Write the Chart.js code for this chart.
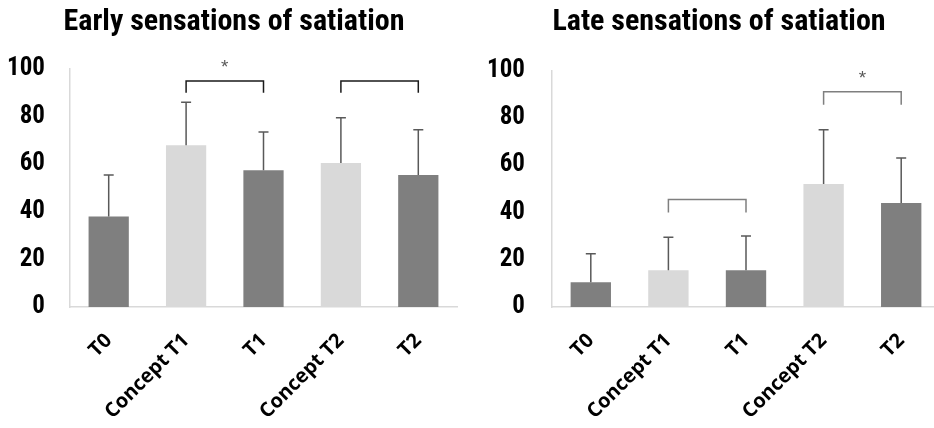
<!DOCTYPE html>
<html>
<head>
    <title>Sensations of satiation</title>
    <script src="https://cdn.jsdelivr.net/npm/chart.js"></script>
    <style>
        body, html {
            margin: 0;
            padding: 0;
            width: 934px;
            height: 428px;
            overflow: hidden;
            background: #fff;
        }
        .box {
            position: absolute;
            top: 0;
            height: 428px;
        }
        #leftBox { left: 0; width: 470px; }
        #rightBox { left: 480px; width: 480px; }
    </style>
</head>
<body>

<div class="box" id="leftBox"><canvas id="earlyChart"></canvas></div>
<div class="box" id="rightBox"><canvas id="lateChart"></canvas></div>

<script>
    // data
    const labels = ['T0', 'Concept T1', 'T1', 'Concept T2', 'T2'];
    const yTicks = [0, 20, 40, 60, 80, 100];

    const earlyMean = [38, 68, 57.5, 60.5, 55.5];
    const earlySd = [17.5, 18, 16, 19, 19];
    const earlyBrackets = [
        { from: 1, to: 2, top: 95, low: 90, mark: '*' },
        { from: 3, to: 4, top: 95, low: 90, mark: '' }
    ];

    const lateMean = [10.5, 15.5, 15.5, 52, 44];
    const lateSd = [12, 14, 14.5, 23, 19];
    const lateBrackets = [
        { from: 1, to: 2, top: 45.5, low: 40, mark: '' },
        { from: 3, to: 4, top: 91, low: 85.5, mark: '*' }
    ];

    const DARK = '#7f7f7f';
    const LIGHT = '#d9d9d9';
    const NARROW = "'Liberation Sans Narrow', 'Roboto Condensed', Roboto, sans-serif";
    const barColors = labels.map(l => l.startsWith('Concept') ? LIGHT : DARK);

    const errorBars = {
        id: 'errorBars',
        afterDatasetsDraw(chart, args, opts) {
            const ctx = chart.ctx;
            const y = chart.scales.y;
            const meta = chart.getDatasetMeta(0);
            const means = chart.data.datasets[0].data;
            ctx.save();
            ctx.strokeStyle = '#595959';
            ctx.lineWidth = 1.5;
            meta.data.forEach((bar, i) => {
                const yTop = y.getPixelForValue(means[i] + opts.sd[i]);
                const yBase = y.getPixelForValue(means[i]);
                ctx.beginPath();
                ctx.moveTo(bar.x, yBase);
                ctx.lineTo(bar.x, yTop);
                ctx.moveTo(bar.x - 5, yTop);
                ctx.lineTo(bar.x + 5, yTop);
                ctx.stroke();
            });
            ctx.restore();
        }
    };

    const brackets = {
        id: 'brackets',
        afterDraw(chart, args, opts) {
            const ctx = chart.ctx;
            const y = chart.scales.y;
            const meta = chart.getDatasetMeta(0);
            ctx.save();
            ctx.strokeStyle = opts.color;
            ctx.lineWidth = 1.5;
            opts.list.forEach(b => {
                const x1 = meta.data[b.from].x;
                const x2 = meta.data[b.to].x;
                const yt = y.getPixelForValue(b.top);
                const yl = y.getPixelForValue(b.low);
                ctx.beginPath();
                ctx.moveTo(x1, yl);
                ctx.lineTo(x1, yt);
                ctx.lineTo(x2, yt);
                ctx.lineTo(x2, yl);
                ctx.stroke();
                if (b.mark) {
                    ctx.fillStyle = '#595959';
                    ctx.font = '19px "Liberation Sans", sans-serif';
                    ctx.textAlign = 'center';
                    ctx.textBaseline = 'middle';
                    ctx.fillText(b.mark, (x1 + x2) / 2, yt - 13);
                }
            });
            ctx.restore();
        }
    };

    // yW / spacer set where the plot sits inside the canvas, so the title centres like the original
    function satiationConfig(title, means, sd, list, bracketColor, yW, spacer, labelPad, titleBottom) {
        return {
            type: 'bar',
            data: {
                labels: labels,
                datasets: [{
                    data: means,
                    backgroundColor: barColors,
                    borderWidth: 0,
                    categoryPercentage: 1,
                    barPercentage: 0.52
                }]
            },
            plugins: [errorBars, brackets],
            options: {
                responsive: true,
                maintainAspectRatio: false,
                animation: false,
                layout: { padding: { left: 8, right: 10, top: 0, bottom: 0 } },
                plugins: {
                    legend: { display: false },
                    tooltip: { enabled: false },
                    title: {
                        display: true,
                        text: title,
                        color: '#000',
                        font: { family: NARROW, size: 30, weight: 'bold', lineHeight: 1.2 },
                        padding: { top: 4, bottom: titleBottom }
                    },
                    errorBars: { sd: sd },
                    brackets: { list: list, color: bracketColor }
                },
                scales: {
                    x: {
                        grid: { display: false, drawTicks: false },
                        border: { color: LIGHT, width: 1.5 },
                        ticks: {
                            color: '#000',
                            minRotation: 45,
                            maxRotation: 45,
                            padding: 22,
                            font: { family: "'Open Sans', sans-serif", size: 20, weight: 'bold' }
                        },
                        afterFit: s => { s.height = 121; }
                    },
                    y: {
                        min: 0,
                        max: 100,
                        grid: { display: false, drawTicks: false },
                        border: { color: LIGHT, width: 1.5 },
                        afterBuildTicks: s => { s.ticks = yTicks.map(v => ({ value: v })); },
                        ticks: {
                            color: '#000',
                            padding: labelPad,
                            font: { family: NARROW, size: 25, weight: 'bold' }
                        },
                        afterFit: s => { s.width = yW; }
                    },
                    // empty right-hand spacer
                    y2: {
                        position: 'right',
                        grid: { display: false, drawTicks: false },
                        border: { display: false },
                        ticks: { display: false },
                        afterFit: s => { s.width = spacer; }
                    }
                }
            }
        };
    }

    new Chart(document.getElementById('earlyChart'),
        satiationConfig('Early sensations of satiation', earlyMean, earlySd, earlyBrackets, '#1a1a1a', 62, 3, 25, 29));
    new Chart(document.getElementById('lateChart'),
        satiationConfig('Late sensations of satiation', lateMean, lateSd, lateBrackets, '#7f7f7f', 64, 10, 27, 30.5));
</script>

</body>
</html>
